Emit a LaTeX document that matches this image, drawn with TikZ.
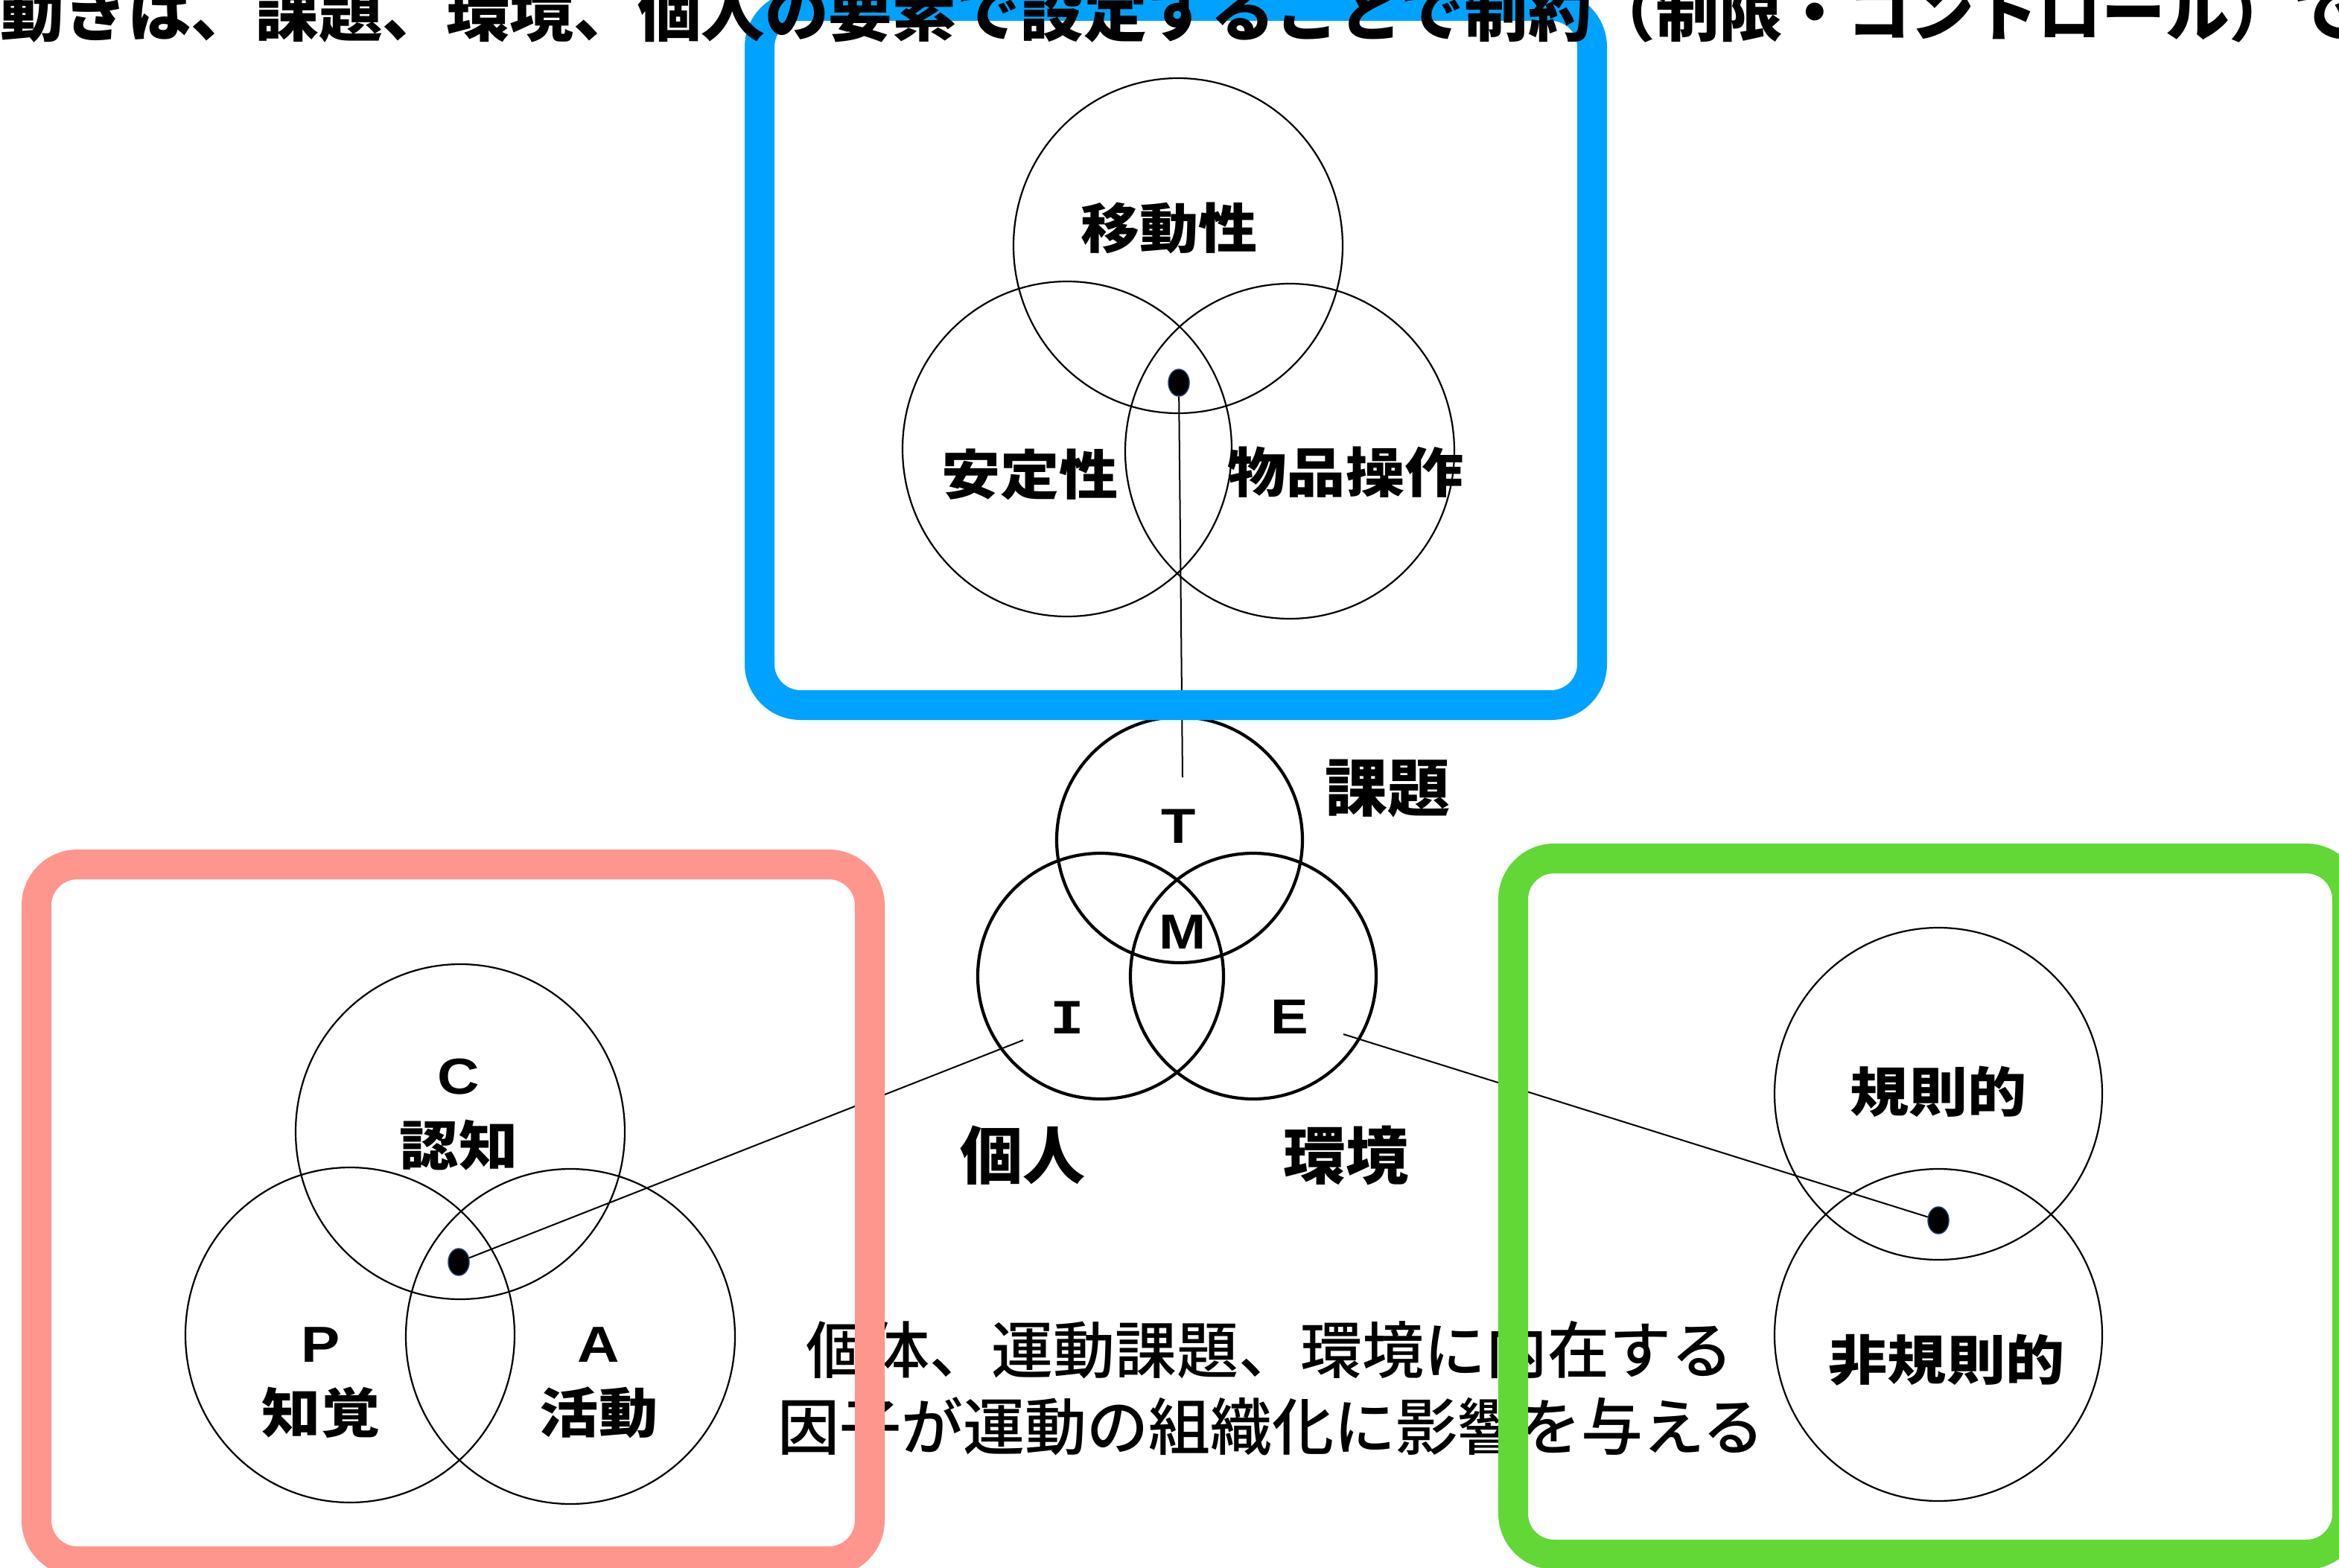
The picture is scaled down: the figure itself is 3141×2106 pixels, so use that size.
\documentclass[tikz,border=0pt]{standalone}
\usepackage{fontspec}
\usetikzlibrary{shapes.geometric}
\newfontfamily\jp{Noto Sans CJK JP}
\IfFontExistsTF{Noto Sans CJK JP Medium}
  {\newfontfamily\jpm{Noto Sans CJK JP Medium}}
  {\newfontfamily\jpm[FakeBold=2]{Noto Sans CJK JP}}
\newfontfamily\jpv[FakeStretch=1.1]{Noto Sans CJK JP}
\newfontfamily\latb[FakeStretch=1.15]{Liberation Sans}
\newfontfamily\latmv[FakeStretch=1.15]{Liberation Mono}
\definecolor{kblue}{RGB}{0,162,255}
\definecolor{kred}{RGB}{255,150,141}
\definecolor{kgreen}{RGB}{97,216,54}
\definecolor{dotrim}{RGB}{30,60,110}
\begin{document}
\begin{tikzpicture}[x=1pt,y=-1pt,
  thinvenn/.style={ellipse, draw=black, line width=2.2pt, minimum width=442pt, minimum height=450pt, inner sep=0pt},
  thickvenn/.style={circle, draw=black, line width=4.2pt, minimum size=330pt, inner sep=0pt},
  dotnode/.style={ellipse, fill=black, draw=dotrim, line width=1.5pt, minimum width=28pt, minimum height=36pt, inner sep=0pt},
  conn/.style={draw=black, line width=2pt},
  vlabel/.style={font=\jpv\bfseries\fontsize{72pt}{80pt}\selectfont, inner sep=0pt, text height=60pt, text depth=5pt},
  clabel/.style={font=\jp\bfseries\fontsize{84pt}{90pt}\selectfont, inner sep=0pt, text height=70pt, text depth=6pt},
  letr/.style={font=\latb\bfseries\fontsize{66pt}{72pt}\selectfont, inner sep=0pt, text height=47.3pt, text depth=0pt},
  letb/.style={font=\latb\bfseries\fontsize{68pt}{72pt}\selectfont, inner sep=0pt, text height=48.7pt, text depth=0pt},
  bodytext/.style={font=\jpm\fontsize{83pt}{90pt}\selectfont, inner sep=0pt, text height=69pt, text depth=6pt},
  framebox/.style={line width=40pt, rounded corners=55pt}
]
\useasboundingbox (0,0) rectangle (3141,2106);
\clip (0,0) rectangle (3141,2106);
\fill[white] (0,0) rectangle (3141,2106);

% central Venn
\node[thickvenn] (cT) at (1584,1128) {};
\node[thickvenn] (cI) at (1478,1311) {};
\node[thickvenn] (cE) at (1683,1311) {};

% top (blue) Venn
\node[thinvenn] (cMob) at (1582,330) {};
\node[thinvenn] (cSta) at (1433,603) {};
\node[thinvenn] (cObj) at (1732,606) {};

% left (red) Venn
\node[thinvenn] (cC) at (618,1520) {};
\node[thinvenn] (cP) at (470,1793) {};
\node[thinvenn] (cA) at (766,1795) {};

% right (green) Venn
\node[thinvenn, minimum width=440pt, minimum height=446pt] (cReg) at (2603,1469) {};
\node[thinvenn, minimum width=440pt, minimum height=446pt] (cIrr) at (2603,1793) {};

% dots
\node[dotnode] (dB) at (1583,514) {};
\node[dotnode] (dR) at (616,1695) {};
\node[dotnode] (dG) at (2603,1639) {};

% connector ends
\coordinate (eT) at (1588,1044);
\coordinate (eI) at (1374,1397);
\coordinate (eE) at (1804,1389);

\draw[conn] (dB) -- (eT);
\draw[conn] (dR) -- (eI);
\draw[conn] (dG) -- (eE);

% labels
\node[vlabel] (lMob) at (1570,306) {移動性};
\node[vlabel] (lSta) at (1383,637) {安定性};
\node[vlabel] (lObj) at (1807,634) {物品操作};

\node[clabel] (lTask) at (1863,1057) {課題};
\node[clabel] (lInd) at (1373,1551) {個人};
\node[clabel] (lEnv) at (1807,1551) {環境};

\node[letr] (lT) at (1583,1109) {T};
\node[letr] (lM) at (1588,1251) {M};
\node[letr, font=\latmv\bfseries\fontsize{66pt}{72pt}\selectfont] (lI) at (1433,1365) {I};
\node[letr] (lE) at (1732,1365) {E};

\node[letb] (lC) at (616,1445) {C};
\node[vlabel] (lCog) at (616,1538) {認知};
\node[letb] (lP) at (431,1805) {P};
\node[vlabel] (lPer) at (431,1897) {知覚};
\node[letb] (lA) at (804,1805) {A};
\node[vlabel] (lAct) at (804,1897) {活動};

\node[vlabel] (lReg) at (2603,1466) {規則的};
\node[vlabel] (lIrr) at (2614,1826) {非規則的};

\node[bodytext] (txt1) at (1705,1813) {個体、運動課題、環境に内在する};
\node[bodytext] (txt2) at (1707,1916) {因子が運動の組織化に影響を与える};

% coloured frames
\draw[kblue, framebox] (1020,8) rectangle (2138,947);
\draw[kred, framebox] (49,1161) rectangle (1168,2097);
\draw[kgreen, framebox] (2032,1153) rectangle (3152,2088);

% title (cut off at the edges, as in the reference)
\node[font=\jp\bfseries\fontsize{85.6pt}{90pt}\selectfont, inner sep=0pt, anchor=base west] (title) at (0,49) {動きは、課題、環境、個人の要素で設定することで制約（制限・コントロール）で};
\end{tikzpicture}
\end{document}
